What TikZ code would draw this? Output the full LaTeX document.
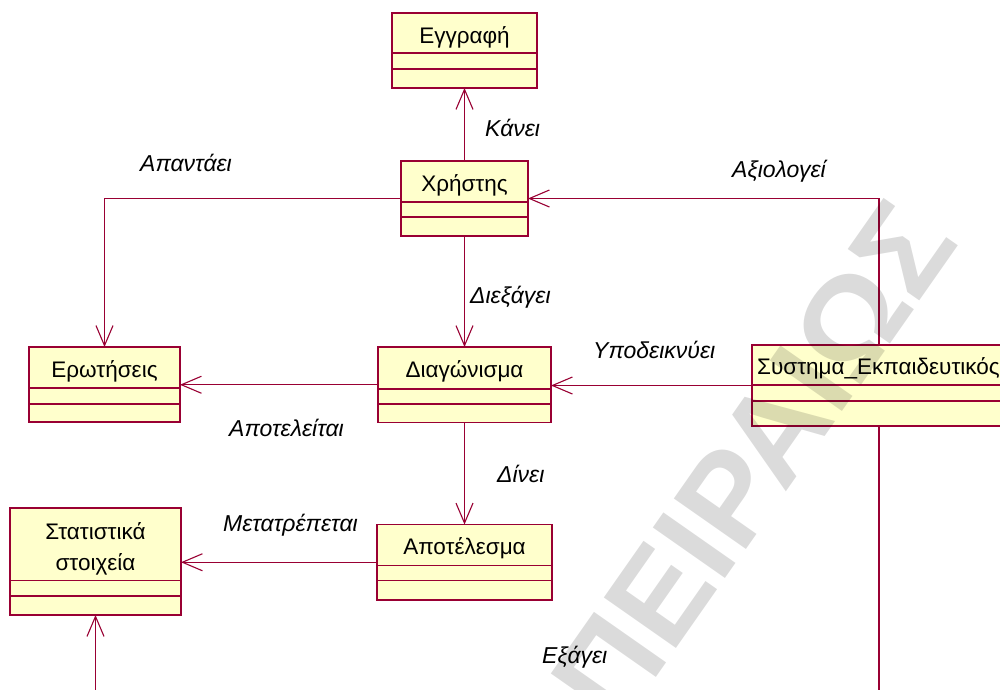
\documentclass[tikz,border=0pt]{standalone}
\usepackage{fontspec}
\setmainfont{Liberation Sans}
\usetikzlibrary{arrows.meta}
\definecolor{umlred}{HTML}{990033}
\definecolor{umlfill}{HTML}{FFFFCC}

% class box: name, left, top, width, height, first and second divider offsets
\newcommand\umlclass[7]{%
  \node[cls, minimum width=#4pt, minimum height=#5pt] (#1) at (#2,#3) {};
  \draw[sep] ([yshift=-#6pt]#1.north west) -- ([yshift=-#6pt]#1.north east);
  \draw[sep] ([yshift=-#7pt]#1.north west) -- ([yshift=-#7pt]#1.north east);
}

\begin{document}
\begin{tikzpicture}[x=1pt,y=-1pt,
  cls/.style={draw=umlred, fill=umlfill, line width=1.6pt, inner sep=0pt, outer sep=0pt, anchor=north west},
  sep/.style={draw=umlred, line width=1.1pt},
  clsname/.style={font=\fontsize{22.5}{31}\selectfont, anchor=base, inner sep=0pt},
  lbl/.style={font=\fontsize{23}{27}\selectfont\itshape, anchor=base west, inner sep=0pt},
  assoc/.style={draw=umlred, line width=1.1pt, -{Straight Barb[length=20pt,width=17pt,line width=1.1pt]}},
  plain/.style={draw=umlred, line width=1.1pt},
]
\useasboundingbox (0,0) rectangle (1000,689);
\clip (0,0) rectangle (1000,689);
\fill[white] (0,0) rectangle (1000,689);

% classes
\umlclass{egg}{392}{13}{145}{75}{40}{56}
\umlclass{xrist}{401}{161}{127}{75}{41}{56}
\umlclass{erot}{29}{347}{151}{75}{41}{57}
\umlclass{diag}{378}{347}{173}{75.5}{42}{57}
\umlclass{apot}{377}{524.5}{175}{75.5}{41}{56}
\umlclass{stat}{10}{508}{171}{107}{72.5}{88}
\umlclass{syst}{752}{345}{254}{81}{40}{56}

\node[clsname] (egg-t) at ([yshift=-30pt]egg.north) {Εγγραφή};
\node[clsname] (xrist-t) at ([yshift=-30.5pt]xrist.north) {Χρήστης};
\node[clsname] (erot-t) at ([yshift=-30pt]erot.north) {Ερωτήσεις};
\node[clsname] (diag-t) at ([yshift=-30pt]diag.north) {Διαγώνισμα};
\node[clsname] (apot-t) at ([yshift=-29.5pt]apot.north) {Αποτέλεσμα};
\node[clsname, align=center] (stat-t) at ([yshift=-62pt]stat.north) {Στατιστικά\\στοιχεία};
\node[clsname, anchor=base west] (syst-t) at ([xshift=5pt,yshift=-29pt]syst.north west) {Συστημα\_Εκπαιδευτικός};

% associations
\coordinate (bot) at (0,700);
\draw[assoc] (xrist.north) -- (xrist.north |- egg.south);
\draw[assoc] (xrist.west) -| (erot.north);
\draw[assoc] (syst.north) |- (xrist.east);
\draw[assoc] (xrist.south) -- (xrist.south |- diag.north);
\draw[assoc] (syst.west) -- (syst.west -| diag.east);
\draw[assoc] (diag.west) -- (diag.west -| erot.east);
\draw[assoc] (diag.south) -- (diag.south |- apot.north);
\draw[assoc] (apot.west) -- (apot.west -| stat.east);
\draw[plain] (syst.south) -- (syst.south |- bot);
\draw[assoc] (stat.south |- bot) -- (stat.south);

% association labels
\node[lbl] (l-kanei) at (485,136) {Κάνει};
\node[lbl] (l-apant) at (140,171.5) {Απαντάει};
\node[lbl] (l-axiol) at (732,177) {Αξιολογεί};
\node[lbl] (l-diex) at (470,303) {Διεξάγει};
\node[lbl] (l-ypod) at (593,358) {Υποδεικνύει};
\node[lbl] (l-apotel) at (229,436) {Αποτελείται};
\node[lbl] (l-dinei) at (497,482) {Δίνει};
\node[lbl] (l-metatr) at (223,531) {Μετατρέπεται};
\node[lbl] (l-exag) at (542,663) {Εξάγει};

% watermark
\node[rotate=55, anchor=west, font=\fontsize{128}{128}\selectfont\bfseries, text=black, text opacity=0.14, inner sep=0pt] (wm) at (582,706) {ΠΕΙΡΑΙΩΣ};
\end{tikzpicture}
\end{document}
